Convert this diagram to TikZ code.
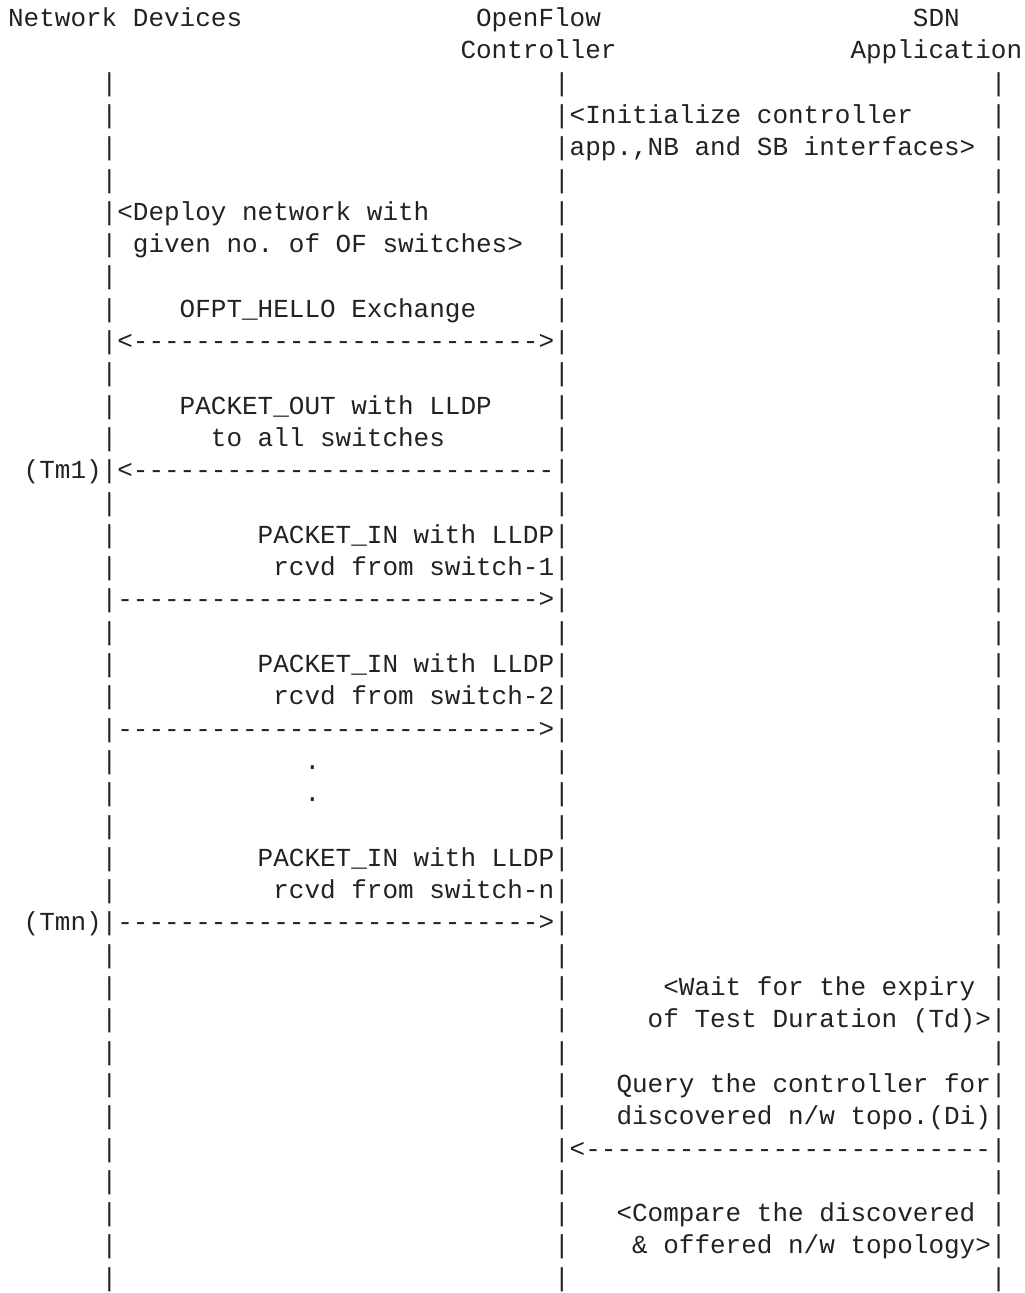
\documentclass[tikz,border=0pt]{standalone}
\usepackage{fontspec}
\setmonofont{Liberation Mono}
\ExplSyntaxOn
\NewDocumentCommand\dsh{m}{\prg_replicate:nn{#1}{-}}
\ExplSyntaxOff
\definecolor{ink}{RGB}{34,34,34}
\tikzset{mono/.style={anchor=base west,inner sep=0pt,outer sep=0pt,text=ink,
  font=\ttfamily\frenchspacing\fontsize{26}{32}\selectfont}}
\begin{document}
\begin{tikzpicture}[x=15.6pt,y=-32.3pt]
\useasboundingbox[fill=white] (-8.1pt,-5.8pt) rectangle (1016.9pt,-1298.8pt);
% life lines drawn as bar characters
\foreach \r in {3,...,40}{\foreach \c in {6,35,63}{\node[mono] (b\r-\c) at (\c,\r) {|};}}
% headers
\node[mono] (hnd) at (0,1) {Network Devices};
\node[mono] (hof) at (30,1) {OpenFlow};
\node[mono] (hsdn) at (58,1) {SDN};
\node[mono] (hctl) at (29,2) {Controller};
\node[mono] (happ) at (54,2) {Application};
% messages
\node[mono] (t4) at (36,4) {<Initialize controller};
\node[mono] (t5) at (36,5) {app.,NB and SB interfaces>};
\node[mono] (t7) at (7,7) {<Deploy network with};
\node[mono] (t8) at (8,8) {given no. of OF switches>};
\node[mono] (t10) at (11,10) {OFPT\_HELLO Exchange};
\node[mono] (a11) at (7,11) {<\dsh{26}>};
\node[mono] (t13) at (11,13) {PACKET\_OUT with LLDP};
\node[mono] (t14) at (13,14) {to all switches};
\node[mono] (tm1) at (1,15) {(Tm1)};
\node[mono] (a15) at (7,15) {<\dsh{27}};
\node[mono] (t17) at (16,17) {PACKET\_IN with LLDP};
\node[mono] (t18) at (17,18) {rcvd from switch-1};
\node[mono] (a19) at (7,19) {\dsh{27}>};
\node[mono] (t21) at (16,21) {PACKET\_IN with LLDP};
\node[mono] (t22) at (17,22) {rcvd from switch-2};
\node[mono] (a23) at (7,23) {\dsh{27}>};
\node[mono] (d24) at (19,24) {.};
\node[mono] (d25) at (19,25) {.};
\node[mono] (t27) at (16,27) {PACKET\_IN with LLDP};
\node[mono] (t28) at (17,28) {rcvd from switch-n};
\node[mono] (tmn) at (1,29) {(Tmn)};
\node[mono] (a29) at (7,29) {\dsh{27}>};
\node[mono] (t31) at (42,31) {<Wait for the expiry};
\node[mono] (t32) at (41,32) {of Test Duration (Td)>};
\node[mono] (t34) at (39,34) {Query the controller for};
\node[mono] (t35) at (39,35) {discovered n/w topo.(Di)};
\node[mono] (a36) at (36,36) {<\dsh{26}};
\node[mono] (t38) at (39,38) {<Compare the discovered};
\node[mono] (t39) at (40,39) {\& offered n/w topology>};
\end{tikzpicture}
\end{document}
